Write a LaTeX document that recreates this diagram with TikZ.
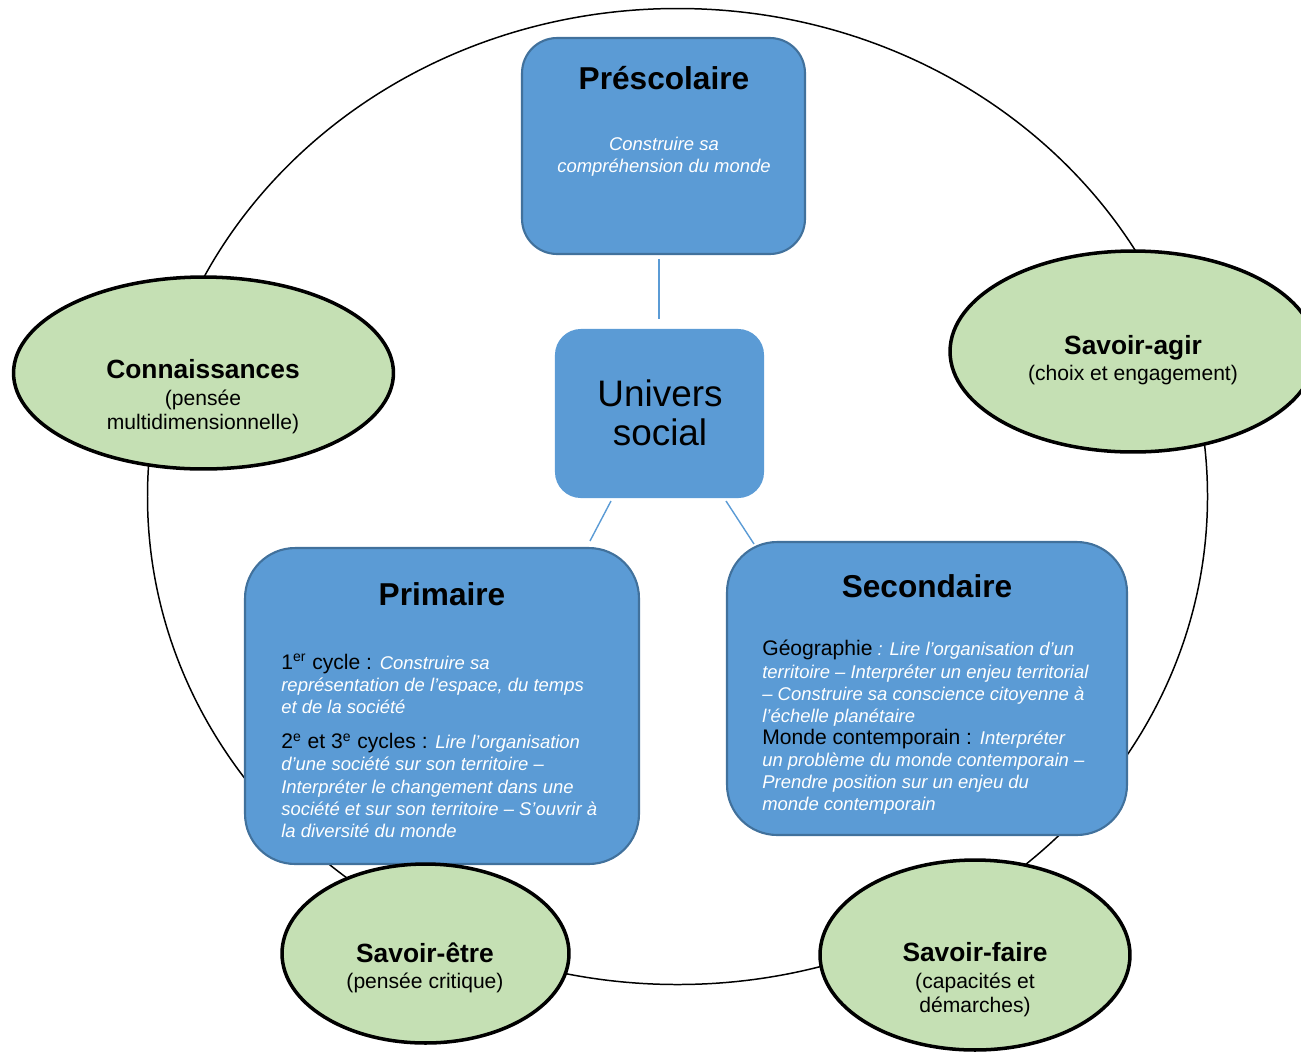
\documentclass[tikz,border=0pt]{standalone}
\usepackage{fontspec}
\setmainfont{Liberation Sans}
\usetikzlibrary{
	shapes.geometric,
	positioning,
	calc,
}
\definecolor{boxblue}{HTML}{5B9BD5}
\definecolor{boxedge}{HTML}{41719C}
\definecolor{leafgreen}{HTML}{C5E0B4}
\tikzset{stage/.style={
		% The shape:
		rectangle,rounded corners=9mm,
		% The border:
		line width=1.2pt,
		draw=boxedge,
		% The filling:
		fill=boxblue,
		% no text inside, the size does it all
		inner sep=0pt,
}}
\tikzset{competence/.style={
		% The shape:
		ellipse,
		% The border:
		line width=2pt,draw=black,
		% The filling:
		fill=leafgreen,
		inner sep=0pt,
}}
\tikzset{heading/.style={font=\fontsize{18}{21}\selectfont\bfseries,inner sep=0pt}}
\tikzset{aim/.style={font=\fontsize{10.5}{12.6}\selectfont\itshape,text=white,inner sep=0pt}}
\tikzset{caption/.style={font=\fontsize{12}{14}\selectfont,align=center,inner sep=0pt}}
\newcommand{\kw}[1]{{\fontsize{12}{12.6}\selectfont\upshape\color{black}#1}}
\newcommand{\ct}[1]{{\fontsize{15}{17}\selectfont\bfseries #1}}

\begin{document}
\begin{tikzpicture}[x=0.02cm,y=-0.02cm,
	ring/.style={black,line width=0.85pt},
	link/.style={boxblue,line width=0.8pt}]
	\useasboundingbox (0,0) rectangle (1301,1052);
	% the big ring behind everything
	\coordinate (hub) at (677.5,496.5);
	\draw [ring] (hub) ellipse [x radius=530, y radius=488];
	%
	% the blue boxes
	\node [stage,rounded corners=7mm,minimum width=5.66cm,minimum height=4.32cm] (presc) at (663.5,146) {};
	\node [stage,rounded corners=5mm,draw=boxblue,minimum width=4.14cm,minimum height=3.34cm] (univ) at (659.5,413.5) {};
	\node [stage,rounded corners=10mm,minimum width=7.88cm,minimum height=6.32cm] (prim) at (442,706) {};
	\node [stage,rounded corners=10mm,minimum width=8cm,minimum height=5.86cm] (secd) at (927,688.5) {};
	%
	\node [heading] (presc-t) at (664,78) {Préscolaire};
	\node [aim,align=center] (presc-a) at (664,157) {Construire sa\\compréhension du monde};
	\node [font=\fontsize{21}{22}\selectfont,align=center,inner sep=0pt] (univ-t) at (660,413) {Univers\\social};
	\node [heading] (prim-t) at (442,594) {Primaire};
	\node [aim,align=left,anchor=north west] (prim-a) at (281,653.5) {%
		\kw{1\textsuperscript{er} cycle : }Construire sa\\
		représentation de l’espace, du temps\\
		et de la société\\[7.5pt]
		\kw{2\textsuperscript{e} et 3\textsuperscript{e} cycles : }Lire l’organisation\\
		d’une société sur son territoire –\\
		Interpréter le changement dans une\\
		société et sur son territoire – S’ouvrir à\\
		la diversité du monde};
	\node [heading] (secd-t) at (927,586) {Secondaire};
	\node [aim,align=left,anchor=north west] (secd-a) at (762,640) {%
		\kw{Géographie} : Lire l’organisation d’un\\
		territoire – Interpréter un enjeu territorial\\
		– Construire sa conscience citoyenne à\\
		l’échelle planétaire\\
		\kw{Monde contemporain : }Interpréter\\
		un problème du monde contemporain –\\
		Prendre position sur un enjeu du\\
		monde contemporain};
	%
	% thin links between the boxes
	\draw [link] ($(presc.south)+(-4.5,4)$) -- ($(univ.north)+(-0.5,-10)$);
	\draw [link] ($(univ.south west)+(56,3)$) -- ($(prim.north west)+(346,-6)$);
	\draw [link] ($(univ.south east)+(-38,3)$) -- ($(secd.north west)+(28,3)$);
	%
	% the green ellipses
	\node [competence,minimum width=7.6cm,minimum height=3.84cm] (conn) at (203.5,373) {};
	\node [competence,minimum width=7.32cm,minimum height=4.02cm] (agir) at (1133,351.5) {};
	\node [competence,minimum width=5.74cm,minimum height=3.58cm] (etre) at (425.5,953.5) {};
	\node [competence,minimum width=6.2cm,minimum height=3.8cm] (faire) at (975,955) {};
	%
	\node [caption] (conn-t) at (203,397) {\ct{Connaissances}\\[1pt](pensée\\multidimensionnelle)};
	\node [caption] (agir-t) at (1133,360) {\ct{Savoir-agir}\\[1pt](choix et engagement)};
	\node [caption] (etre-t) at (425,968) {\ct{Savoir-être}\\[1pt](pensée critique)};
	\node [caption] (faire-t) at (975,980) {\ct{Savoir-faire}\\[1pt](capacités et\\démarches)};
\end{tikzpicture}
\end{document}
